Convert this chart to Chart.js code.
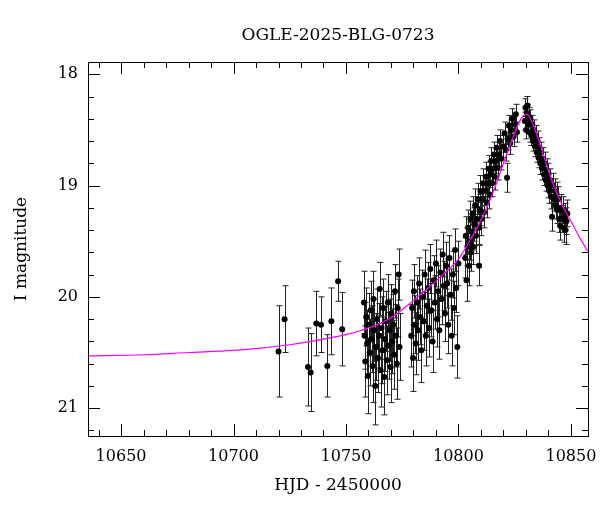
<!DOCTYPE html>
<html>
<head>
<meta charset="utf-8">
<script src="https://cdn.jsdelivr.net/npm/chart.js@4"></script>
<style>
  html, body { margin: 0; padding: 0; background: #fff; }
  #wrap { width: 600px; height: 512px; }
</style>
</head>
<body>
<div id="wrap"><canvas id="lc" width="600" height="512"></canvas></div>
<script>
// photometry, [HJD-2450000, I mag, error]
const earlyPts = [
  [10720.0, 20.49, 0.41], [10722.7, 20.20, 0.30], [10733.1, 20.63, 0.35], [10734.3, 20.68, 0.35],
  [10736.8, 20.24, 0.29], [10738.9, 20.25, 0.25], [10741.7, 20.62, 0.28], [10743.5, 20.22, 0.30],
  [10746.5, 19.86, 0.18], [10748.3, 20.29, 0.33]
];
const seasonA = [
  [10758.0, 20.05, 0.28], [10758.3, 20.35, 0.30], [10758.6, 20.58, 0.32], [10759.0, 20.18, 0.26],
  [10759.4, 20.42, 0.30], [10759.8, 20.71, 0.34], [10760.2, 20.25, 0.28], [10760.6, 20.50, 0.30],
  [10761.0, 20.12, 0.26], [10761.4, 20.38, 0.30], [10761.8, 20.62, 0.33], [10762.2, 20.02, 0.25],
  [10762.6, 20.30, 0.28], [10763.0, 20.80, 0.35], [10763.4, 20.45, 0.30], [10763.8, 20.20, 0.27],
  [10764.2, 20.55, 0.31], [10764.6, 20.35, 0.29], [10765.0, 19.93, 0.24], [10765.4, 20.66, 0.33],
  [10765.8, 20.28, 0.28], [10766.2, 20.48, 0.30], [10766.6, 20.10, 0.26], [10767.0, 20.72, 0.34],
  [10767.4, 20.38, 0.29], [10767.8, 20.22, 0.27], [10768.2, 20.57, 0.31], [10768.6, 20.05, 0.25],
  [10769.0, 20.44, 0.30], [10769.4, 20.30, 0.28], [10769.8, 20.63, 0.32], [10770.2, 20.15, 0.26],
  [10770.6, 20.40, 0.29], [10771.0, 20.25, 0.27], [10771.4, 20.52, 0.31], [10771.8, 19.95, 0.24],
  [10772.2, 20.35, 0.28], [10772.6, 20.60, 0.32], [10773.0, 20.10, 0.26], [10773.4, 19.80, 0.23],
  [10773.8, 20.45, 0.30]
];
const seasonB = [
  [10779.0, 20.35, 0.28], [10779.4, 20.10, 0.25], [10779.8, 20.55, 0.30], [10780.2, 19.95, 0.24],
  [10780.6, 20.25, 0.26], [10781.0, 20.42, 0.28], [10781.5, 20.05, 0.24], [10782.0, 20.30, 0.27],
  [10782.5, 19.88, 0.23], [10783.0, 20.18, 0.25], [10783.5, 20.48, 0.29], [10784.0, 20.00, 0.24],
  [10784.5, 20.22, 0.26], [10785.0, 19.80, 0.22], [10785.5, 20.35, 0.27], [10786.0, 20.08, 0.24],
  [10786.5, 19.92, 0.23], [10787.0, 20.28, 0.26], [10787.5, 19.75, 0.22], [10788.0, 20.12, 0.24],
  [10788.5, 20.40, 0.28], [10789.0, 19.85, 0.22], [10789.5, 20.05, 0.24], [10790.0, 19.70, 0.21],
  [10790.5, 20.20, 0.25], [10791.0, 19.95, 0.23], [10791.5, 20.30, 0.26], [10792.0, 19.78, 0.21],
  [10792.5, 20.02, 0.23], [10793.0, 19.62, 0.20], [10793.5, 19.90, 0.22], [10794.0, 20.15, 0.25],
  [10794.5, 19.72, 0.21], [10795.0, 19.88, 0.22], [10795.5, 20.25, 0.26], [10796.0, 19.65, 0.20],
  [10796.5, 19.98, 0.23], [10797.0, 20.35, 0.27], [10797.5, 19.80, 0.21], [10798.0, 20.10, 0.24],
  [10798.5, 19.58, 0.19], [10799.0, 19.92, 0.22], [10799.5, 20.45, 0.28], [10800.0, 19.70, 0.20]
];
const seasonC = [
  [10803.0, 19.65, 0.18], [10803.3, 19.45, 0.17], [10803.6, 19.85, 0.19], [10804.0, 19.55, 0.17],
  [10804.3, 19.38, 0.16], [10804.6, 19.72, 0.18], [10805.0, 19.50, 0.17], [10805.3, 19.30, 0.16],
  [10805.6, 19.60, 0.17], [10806.0, 19.42, 0.16], [10806.3, 19.25, 0.15], [10806.6, 19.55, 0.16],
  [10807.0, 19.35, 0.15], [10807.4, 19.18, 0.15], [10807.8, 19.45, 0.16], [10808.2, 19.30, 0.15],
  [10808.6, 19.12, 0.14], [10809.0, 19.38, 0.15], [10809.2, 19.72, 0.18], [10809.4, 19.22, 0.14],
  [10809.8, 19.05, 0.14], [10810.2, 19.30, 0.15], [10810.6, 19.12, 0.14], [10811.0, 18.98, 0.13],
  [10811.4, 19.24, 0.14], [10811.8, 19.05, 0.13], [10812.2, 18.92, 0.13], [10812.6, 19.15, 0.14],
  [10813.0, 18.98, 0.13], [10813.4, 18.85, 0.12], [10813.8, 19.08, 0.13], [10814.2, 18.90, 0.12],
  [10814.6, 18.78, 0.12], [10815.0, 18.98, 0.12], [10815.4, 18.85, 0.12], [10815.8, 18.72, 0.11],
  [10816.2, 18.92, 0.12], [10816.6, 18.78, 0.11], [10817.0, 18.66, 0.11], [10817.4, 18.84, 0.11],
  [10818.0, 18.72, 0.11], [10818.5, 18.60, 0.10], [10819.0, 18.76, 0.10], [10820.0, 18.65, 0.10],
  [10820.5, 18.53, 0.10], [10821.0, 18.68, 0.10], [10821.6, 18.93, 0.13], [10822.0, 18.58, 0.10],
  [10822.5, 18.46, 0.09], [10823.0, 18.62, 0.10], [10823.5, 18.50, 0.09], [10824.0, 18.40, 0.09],
  [10824.5, 18.56, 0.09], [10825.0, 18.45, 0.09], [10825.5, 18.36, 0.09], [10826.0, 18.52, 0.09]
];
const seasonD = [
  [10829.5, 18.42, 0.08], [10829.8, 18.30, 0.08], [10830.1, 18.50, 0.08], [10830.4, 18.35, 0.08],
  [10830.7, 18.28, 0.08], [10831.0, 18.45, 0.08], [10831.3, 18.38, 0.08], [10831.6, 18.52, 0.09],
  [10832.0, 18.40, 0.08], [10832.4, 18.55, 0.09], [10832.8, 18.45, 0.08], [10833.2, 18.60, 0.09],
  [10833.6, 18.50, 0.09], [10834.0, 18.65, 0.09], [10834.4, 18.55, 0.09], [10834.8, 18.70, 0.09],
  [10835.2, 18.60, 0.09], [10835.6, 18.75, 0.09], [10836.0, 18.66, 0.09], [10836.4, 18.80, 0.10],
  [10836.8, 18.70, 0.09], [10837.2, 18.85, 0.10], [10837.6, 18.76, 0.10], [10838.0, 18.90, 0.10],
  [10838.4, 18.80, 0.10], [10838.8, 18.95, 0.10], [10839.2, 18.86, 0.10], [10839.6, 19.00, 0.11],
  [10840.0, 18.90, 0.10], [10840.4, 19.05, 0.11], [10840.8, 18.95, 0.10], [10841.2, 19.10, 0.11],
  [10841.6, 19.28, 0.13], [10842.0, 19.00, 0.11], [10842.4, 19.12, 0.11], [10842.8, 19.05, 0.11],
  [10843.2, 19.18, 0.12], [10843.6, 19.08, 0.11], [10844.0, 19.22, 0.12], [10844.4, 19.12, 0.11],
  [10844.8, 19.30, 0.12], [10845.2, 19.36, 0.13], [10845.6, 19.20, 0.12], [10846.0, 19.30, 0.12],
  [10846.4, 19.22, 0.12], [10846.8, 19.38, 0.13], [10847.2, 19.28, 0.12], [10847.6, 19.40, 0.13],
  [10848.0, 19.32, 0.12], [10848.4, 19.25, 0.12]
];

// model curve
const modelT = [10635, 10660, 10680, 10700, 10712, 10725, 10740, 10750, 10757, 10765, 10772, 10779,
  10786, 10793, 10800, 10806, 10811, 10816, 10820, 10824, 10827, 10829, 10830.5, 10832, 10835,
  10838, 10842, 10846, 10850, 10854, 10857.5];
const modelMag = [20.53, 20.52, 20.50, 20.48, 20.46, 20.43, 20.38, 20.34, 20.30, 20.24, 20.16, 20.05,
  19.93, 19.80, 19.66, 19.46, 19.27, 19.03, 18.80, 18.58, 18.43, 18.37, 18.36, 18.40, 18.55,
  18.74, 18.98, 19.17, 19.32, 19.47, 19.59];

const xTicks = [10650, 10700, 10750, 10800, 10850];
const yTicks = [18, 19, 20, 21];

const allPts = earlyPts.concat(seasonA, seasonB, seasonC, seasonD);
const FONT = '"DejaVu Serif", serif';

// error bars, frame, ticks and text
const decor = {
    id: 'decor',
    beforeDatasetsDraw(chart) {
        const { ctx, scales: { x, y } } = chart;
        ctx.save();
        ctx.lineWidth = 1;
        ctx.strokeStyle = '#222';
        allPts.forEach(p => {
            const px = Math.round(x.getPixelForValue(p[0])) + 0.5;
            const y1 = y.getPixelForValue(p[1] - p[2]);
            const y2 = y.getPixelForValue(p[1] + p[2]);
            ctx.beginPath();
            ctx.moveTo(px, y1); ctx.lineTo(px, y2);
            ctx.moveTo(px - 3, y1); ctx.lineTo(px + 3, y1);
            ctx.moveTo(px - 3, y2); ctx.lineTo(px + 3, y2);
            ctx.stroke();
        });
        ctx.restore();
    },
    afterDraw(chart) {
        const { ctx, chartArea: a, scales: { x, y } } = chart;
        ctx.save();
        ctx.strokeStyle = '#000';
        ctx.lineWidth = 1;
        ctx.strokeRect(a.left + 0.5, a.top + 0.5, a.right - a.left, a.bottom - a.top);
        ctx.beginPath();
        for (let v = 10640; v <= 10850; v += 10) {
            const px = Math.round(x.getPixelForValue(v)) + 0.5;
            const len = v % 50 === 0 ? 12 : 6;
            ctx.moveTo(px, a.bottom); ctx.lineTo(px, a.bottom - len);
            ctx.moveTo(px, a.top); ctx.lineTo(px, a.top + len);
        }
        for (let v = 18; v <= 21.2; v += 0.2) {
            const py = Math.round(y.getPixelForValue(v)) + 0.5;
            const major = Math.abs(v - Math.round(v)) < 0.01;
            const len = major ? 12 : 6;
            ctx.moveTo(a.left, py); ctx.lineTo(a.left + len, py);
            ctx.moveTo(a.right, py); ctx.lineTo(a.right - len, py);
        }
        ctx.stroke();

        ctx.fillStyle = '#000';
        ctx.font = '16px ' + FONT;
        ctx.textAlign = 'center';
        ctx.textBaseline = 'middle';
        xTicks.forEach(v => ctx.fillText(String(v), x.getPixelForValue(v), a.bottom + 21));
        ctx.textAlign = 'right';
        yTicks.forEach(v => ctx.fillText(String(v), a.left - 10, y.getPixelForValue(v)));

        ctx.textAlign = 'center';
        ctx.font = '17px ' + FONT;
        ctx.fillText('OGLE-2025-BLG-0723', (a.left + a.right) / 2, 36);
        ctx.fillText('HJD - 2450000', (a.left + a.right) / 2, 486);
        ctx.translate(22, (a.top + a.bottom) / 2);
        ctx.rotate(-Math.PI / 2);
        ctx.fillText('I magnitude', 0, 0);
        ctx.restore();
    }
};

new Chart(document.getElementById('lc'), {
    type: 'scatter',
    data: {
        datasets: [{
            data: allPts.map(p => ({ x: p[0], y: p[1] })),
            pointRadius: 3,
            pointBackgroundColor: '#000',
            pointBorderColor: '#000',
            pointBorderWidth: 0,
            order: 1
        }, {
            type: 'line',
            data: modelT.map((t, i) => ({ x: t, y: modelMag[i] })),
            borderColor: '#ff00ff',
            borderWidth: 1.2,
            pointRadius: 0,
            cubicInterpolationMode: 'monotone',
            order: 0
        }]
    },
    options: {
        responsive: false,
        animation: false,
        devicePixelRatio: 1,
        layout: { padding: { left: 0, right: 12, top: 62, bottom: 0 } },
        plugins: { legend: { display: false }, tooltip: { enabled: false } },
        scales: {
            x: {
                type: 'linear', min: 10635.3, max: 10857.6,
                grid: { display: false }, border: { display: false },
                ticks: { display: false },
                afterFit: s => { s.height = 76; }
            },
            y: {
                type: 'linear', min: 17.89, max: 21.25, reverse: true,
                grid: { display: false }, border: { display: false },
                ticks: { display: false },
                afterFit: s => { s.height = 0; s.width = 88; }
            }
        }
    },
    plugins: [decor]
});
</script>
</body>
</html>
